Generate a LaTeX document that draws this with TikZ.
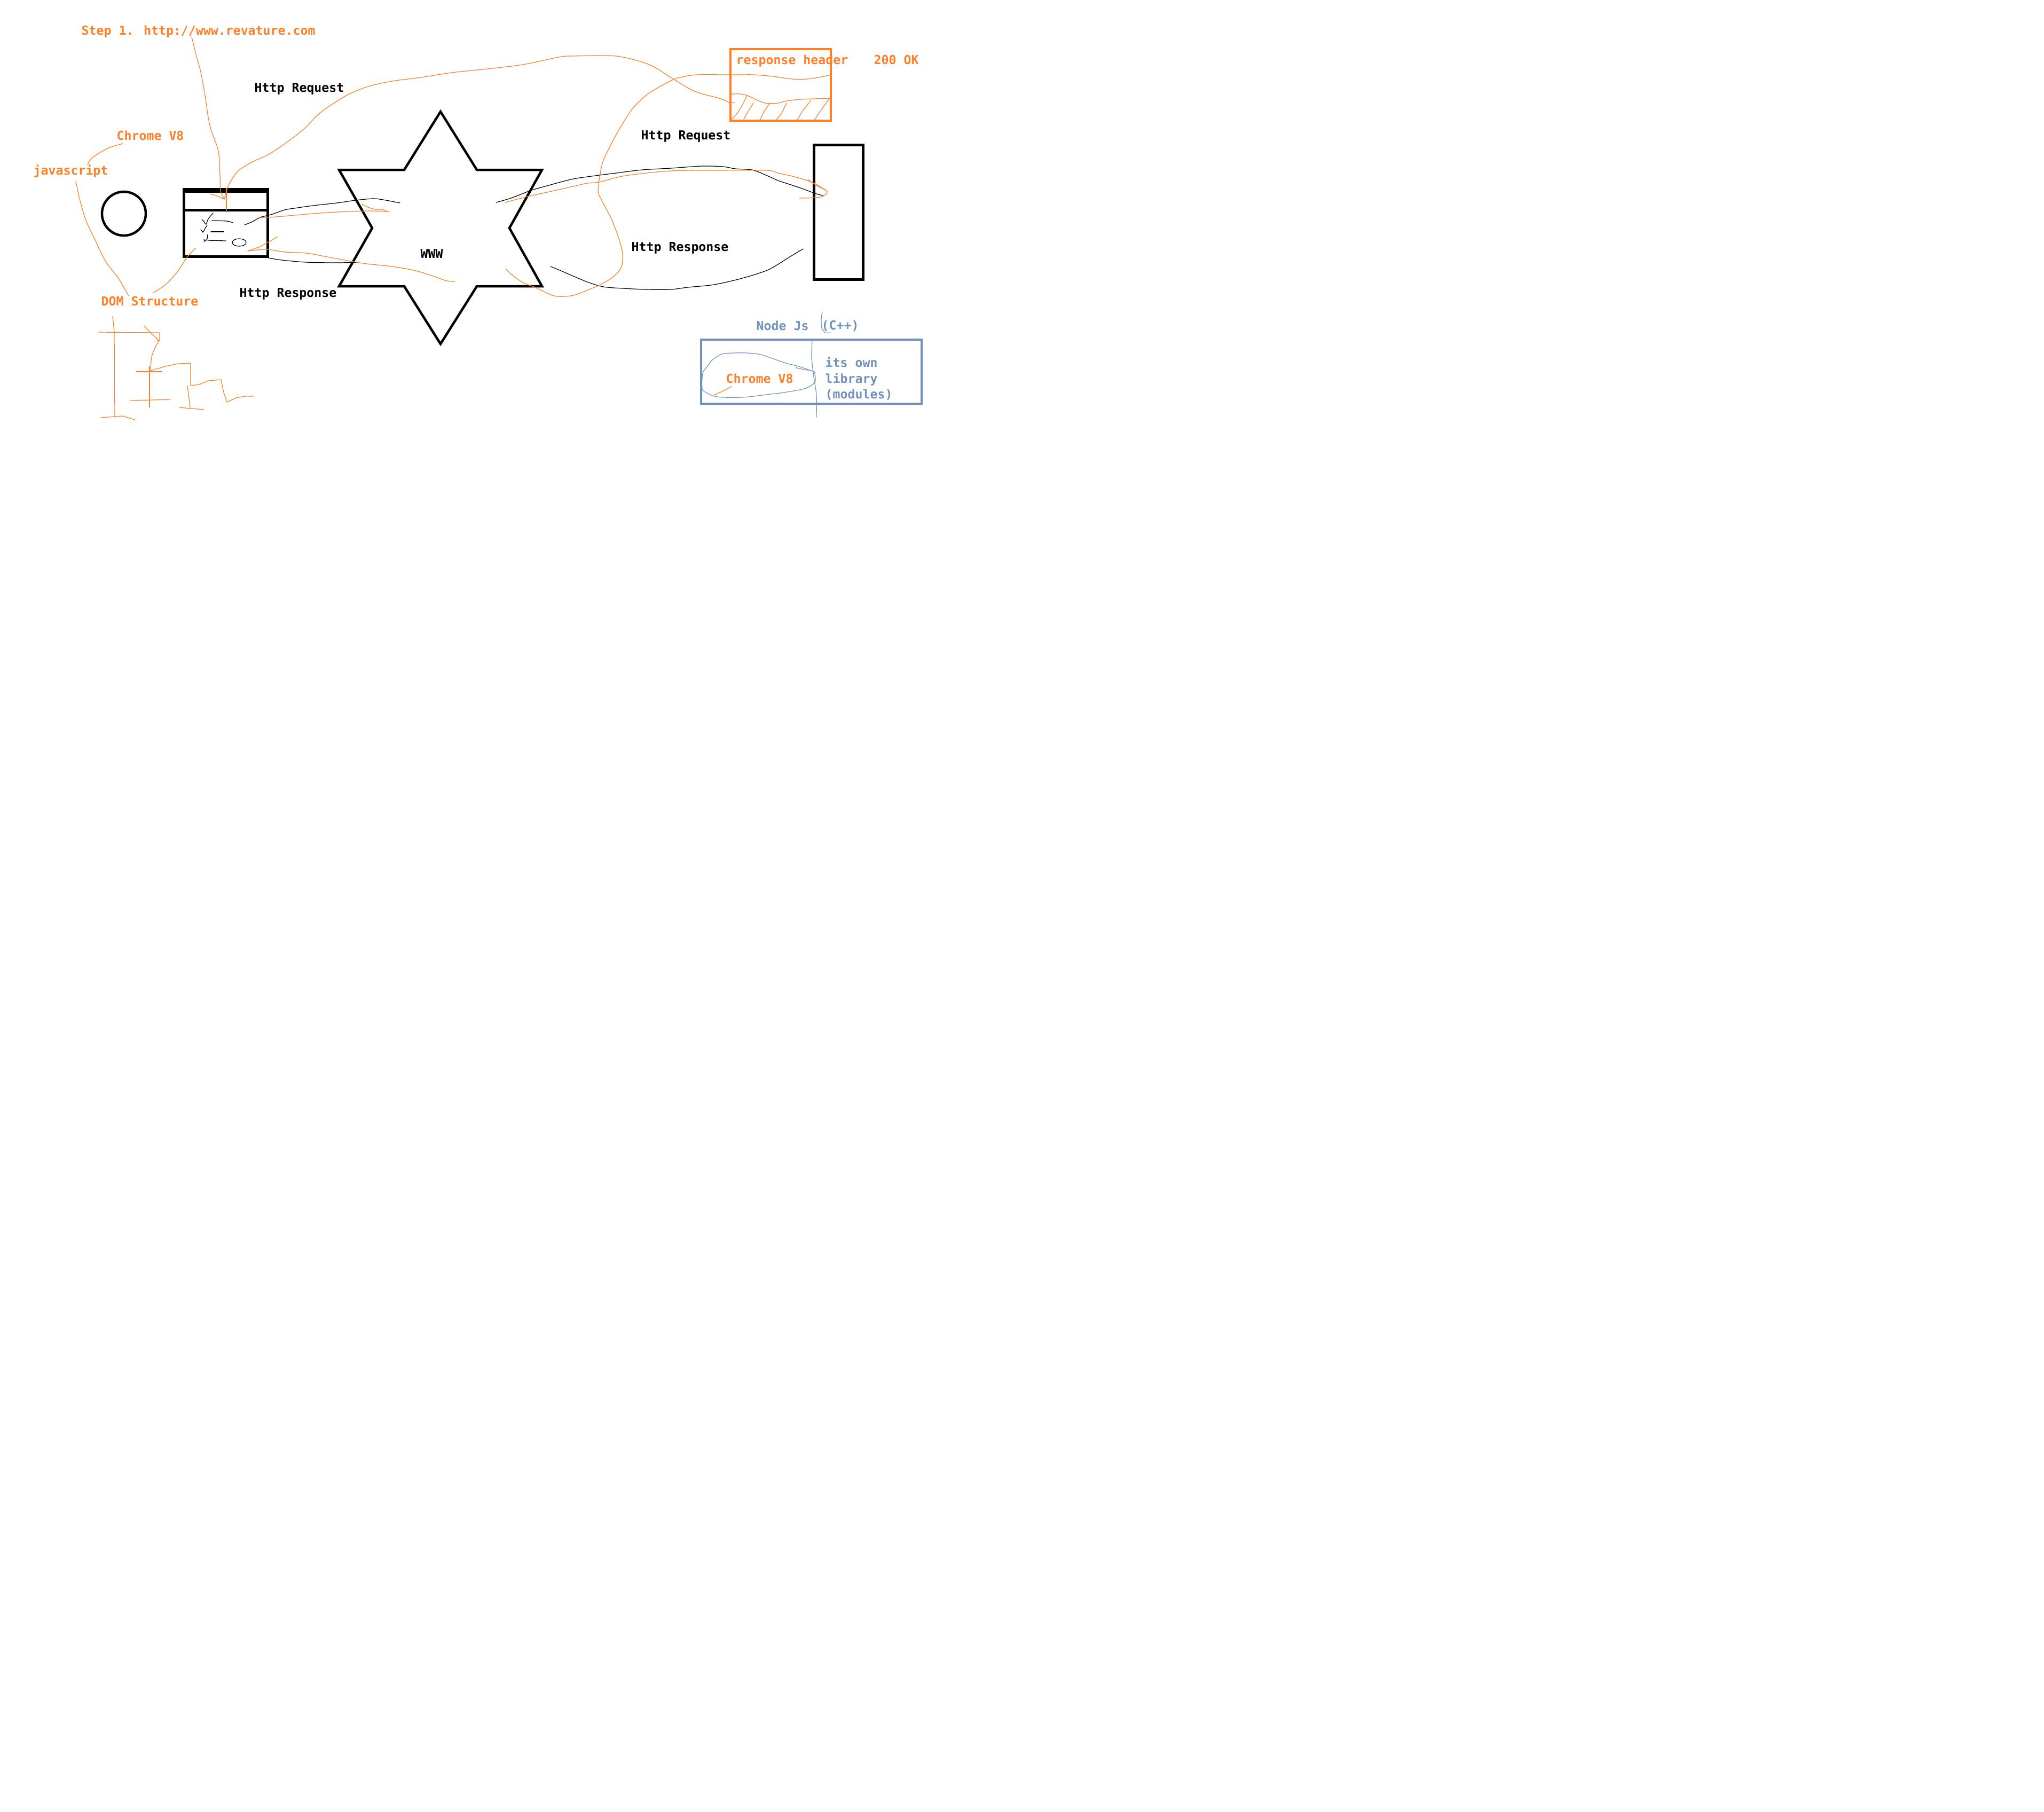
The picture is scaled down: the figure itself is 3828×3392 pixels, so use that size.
\documentclass[tikz,border=0pt]{standalone}
\usepackage{fontspec}
\newfontfamily\sketchfont{DejaVu Sans Mono}
\usetikzlibrary{positioning}
\definecolor{paintorange}{RGB}{255,127,39}
\definecolor{paintblue}{RGB}{112,146,190}

\begin{document}
\begin{tikzpicture}[x=0.01cm,y=-0.01cm] % one unit = one pixel of the sketch
	\tikzset{txt/.style={font=\sketchfont\bfseries\fontsize{6.6}{8}\selectfont, inner sep=0pt, anchor=base west},
		otxt/.style={txt, text=paintorange},
		btxt/.style={txt, text=paintblue},
		heavy/.style={line width=0.045cm},
		pen/.style={line width=0.012cm, line cap=round, line join=round},
		box/.style={draw, heavy, inner sep=0pt}}
	
	% Page size of the sketch
	\fill[white] (0,0) rectangle (3828,3392);
	\useasboundingbox (0,0) rectangle (3828,3392);
	
	% Labels
	\node[otxt] (step) at (152,65) {Step 1. http://www.revature.com};
	\node[txt] (reqleft) at (476,172) {Http Request};
	\node[otxt] (chromeleft) at (218,262) {Chrome V8};
	\node[otxt] (js) at (62,327) {javascript};
	\node[otxt] (dom) at (189,572) {DOM Structure};
	\node[txt] (respleft) at (448,556) {Http Response};
	\node[txt] (www) at (787,483) {WWW};
	\node[otxt] (header) at (1378,120) {response header};
	\node[otxt] (ok) at (1636,120) {200 OK};
	\node[txt] (reqright) at (1200,261) {Http Request};
	\node[txt] (respright) at (1182,470) {Http Response};
	\node[btxt] (nodejs) at (1416,618) {Node Js};
	\node[btxt] (cpp) at (1538,617) {(C++)};
	\node[otxt] (chromeright) at (1359,717) {Chrome V8};
	\node[btxt] (own1) at (1545,687) {its own};
	\node[btxt] (own2) at (1545,717) {library};
	\node[btxt] (own3) at (1545,746) {(modules)};
	
	% Engine circle and browser window
	\node[box, circle, minimum size=0.82cm] (engine) at (232,400) {};
	\node[box, minimum width=1.57cm, minimum height=1.26cm] (browser) at (423,417.5) {};
	\fill (342,352) rectangle (504,361);
	\draw[heavy] (342,393.5) -- (504,393.5);
	
	% Star of the web
	\draw[heavy, line join=miter] (825,209) -- (893,318) -- (1015,318) -- (954,427) -- (1015,536) -- (893,536)
		-- (825,644) -- (757,536) -- (635,536) -- (697,427) -- (635,318) -- (757,318) -- cycle;
	
	% Server and boxes
	\node[box, minimum width=0.92cm, minimum height=2.52cm] (server) at (1570.5,397.5) {};
	\node[box, draw=paintorange, minimum width=1.88cm, minimum height=1.34cm] (headerbox) at (1462,159) {};
	\node[box, draw=paintblue, minimum width=4.13cm, minimum height=1.2cm] (nodebox) at (1519.5,696) {};
	
	% Scribbles in the browser
	\draw[pen] plot[smooth] coordinates {(378,411) (382,415) (386,420) (390,410) (399,399)};
	\draw[pen] plot[smooth] coordinates {(388,422) (385,426) (383,430) (380,435)};
	\draw[pen] (376,430) -- (380,435);
	\draw[pen] plot[smooth] coordinates {(389,439) (388,447) (386,450) (382,452)};
	\draw[pen] (382,448) -- (383,452);
	\draw[pen] plot[smooth] coordinates {(397,413) (425,414) (436,417)};
	\draw[pen] (395,434) -- (419,434);
	\draw[pen] (389,450) -- (423,451);
	\draw[pen] (448,454) ellipse (13 and 7);
	
	% Black request and response strokes
	\draw[pen] plot[smooth] coordinates {(458,421) (473,415) (487,407) (507,402) (533,393) (551,390) (586,385) (631,380) (666,375) (700,372) (723,375) (749,380)};
	\draw[pen] plot[smooth] coordinates {(503,483) (528,487) (574,491) (631,492) (672,491)};
	\draw[pen] plot[smooth] coordinates {(929,379) (957,371) (993,357) (1024,348) (1069,336) (1100,331) (1154,324) (1203,318) (1256,315) (1314,311) (1354,312) (1377,316) (1408,318) (1430,326) (1457,338) (1475,344) (1502,353) (1529,363) (1542,366)};
	\draw[pen] plot[smooth] coordinates {(1504,466) (1479,481) (1439,505) (1390,521) (1337,533) (1288,538) (1256,542) (1212,542) (1167,540) (1130,537) (1100,528) (1069,515) (1046,505) (1031,499)};
	
	% Orange strokes
	\begin{scope}[paintorange]
		\draw[pen] plot[smooth] coordinates {(359,69) (367,102) (376,135) (383,173) (393,235) (409,283) (412,327) (413,357) (420,373)};
		\draw[pen] plot[smooth] coordinates {(393,363) (407,367) (420,373)};
		\draw[pen] (424,394) -- (424,353);
		\draw[pen] plot[smooth] coordinates {(420,373) (428,347) (445,321) (471,304) (505,288) (542,263) (571,240) (591,219) (609,204) (632,189) (654,176) (689,162) (734,152) (788,145) (846,136) (913,129) (979,121) (1046,107) (1069,105) (1154,105) (1216,121) (1261,148) (1301,171) (1350,185) (1366,192) (1375,192)};
		\draw[pen] plot[smooth] coordinates {(1555,140) (1538,144) (1511,148) (1484,148) (1448,143) (1412,140) (1386,140) (1368,140) (1305,140) (1279,144) (1261,149) (1216,174) (1185,203) (1158,245) (1136,287) (1127,310) (1120,356) (1127,375) (1145,410) (1158,444) (1166,475) (1163,502) (1145,521) (1120,535) (1091,547) (1069,554) (1038,554) (1002,538) (979,529) (957,513) (948,504)};
		\draw[pen] plot[smooth] coordinates {(1370,176) (1388,176) (1400,179) (1417,187) (1433,193) (1457,193) (1473,189) (1500,186) (1555,184)};
		
		% Hatching under the header
		\draw[pen] plot[smooth] coordinates {(1370,223) (1380,213) (1390,197) (1399,179)};
		\draw[pen] plot[smooth] coordinates {(1393,223) (1402,207) (1411,193)};
		\draw[pen] plot[smooth] coordinates {(1423,225) (1432,207) (1442,193)};
		\draw[pen] plot[smooth] coordinates {(1453,225) (1463,213) (1473,193)};
		\draw[pen] plot[smooth] coordinates {(1493,225) (1503,208) (1519,188)};
		\draw[pen] plot[smooth] coordinates {(1525,225) (1537,207) (1555,182)};
		
		% Request and response beside the black ones
		\draw[pen] plot[smooth] coordinates {(485,408) (517,406) (574,401) (631,397) (689,395) (729,396)};
		\draw[pen] plot[smooth] coordinates {(678,382) (689,388) (703,392) (716,392) (725,396)};
		\draw[pen] plot[smooth] coordinates {(464,470) (499,467) (534,472) (574,474) (613,481) (680,493) (734,499) (779,507) (814,518) (837,526) (851,527)};
		\draw[pen] (464,470) -- (487,462) -- (519,444);
		\draw[pen] plot[smooth] coordinates {(946,379) (988,368) (1029,359) (1069,350) (1100,343) (1122,341) (1171,329) (1256,320) (1345,319) (1435,319) (1457,324) (1488,331) (1520,341) (1546,356) (1549,361) (1542,367) (1529,370) (1497,371)};
		\draw[pen] plot[smooth] coordinates {(1513,336) (1529,347) (1546,356)};
		
		% Pointers on the left
		\draw[pen] plot[smooth] coordinates {(230,269) (201,278) (172,296) (164,309)};
		\draw[pen] plot[smooth] coordinates {(142,339) (149,372) (161,413) (178,449) (198,490) (221,520) (241,554)};
		\draw[pen] plot[smooth] coordinates {(287,548) (310,533) (333,508) (350,482) (367,464)};
		
		% DOM tree
		\draw[pen] (211,592) -- (214,622) -- (215,781);
		\draw[pen] (185,622) -- (299,623) -- (299,638) -- (294,638);
		\draw[pen] plot[smooth] coordinates {(270,610) (284,625) (297,638) (292,648) (284,668) (282,694)};
		\draw[pen] (282,694) -- (310,686) -- (333,681) -- (357,680) -- (357,722) -- (373,720) -- (390,713) -- (414,711) -- (419,735) -- (425,753) -- (442,745) -- (459,742) -- (475,742);
		\draw[pen] (280,686) -- (280,763);
		\draw[pen] (255,696) -- (304,696);
		\draw[pen] (244,750) -- (319,748);
		\draw[pen] (351,722) -- (356,763);
		\draw[pen] (336,763) -- (382,767);
		\draw[pen] (189,782) -- (230,779) -- (253,786);
		
		\draw[pen] (1337,740) -- (1352,733) -- (1370,724);
	\end{scope}
	
	% Blue strokes in the Node Js box
	\begin{scope}[paintblue]
		\draw[pen] plot[smooth] coordinates {(1521,639) (1520,669) (1524,706) (1529,740) (1529,781)};
		\draw[pen] plot[smooth] coordinates {(1540,584) (1538,597) (1539,614) (1546,623) (1555,623)};
		\draw[pen] plot[smooth] coordinates {(1492,687) (1492,689) (1506,692) (1524,696) (1527,713) (1520,721) (1506,728) (1468,735) (1443,738) (1411,742) (1390,744) (1355,744) (1338,742) (1324,736) (1315,728) (1316,699) (1324,687) (1334,674) (1352,663) (1373,661) (1401,661) (1425,664) (1446,671) (1475,681) (1496,686) (1527,697)};
	\end{scope}
	
\end{tikzpicture}
\end{document}
